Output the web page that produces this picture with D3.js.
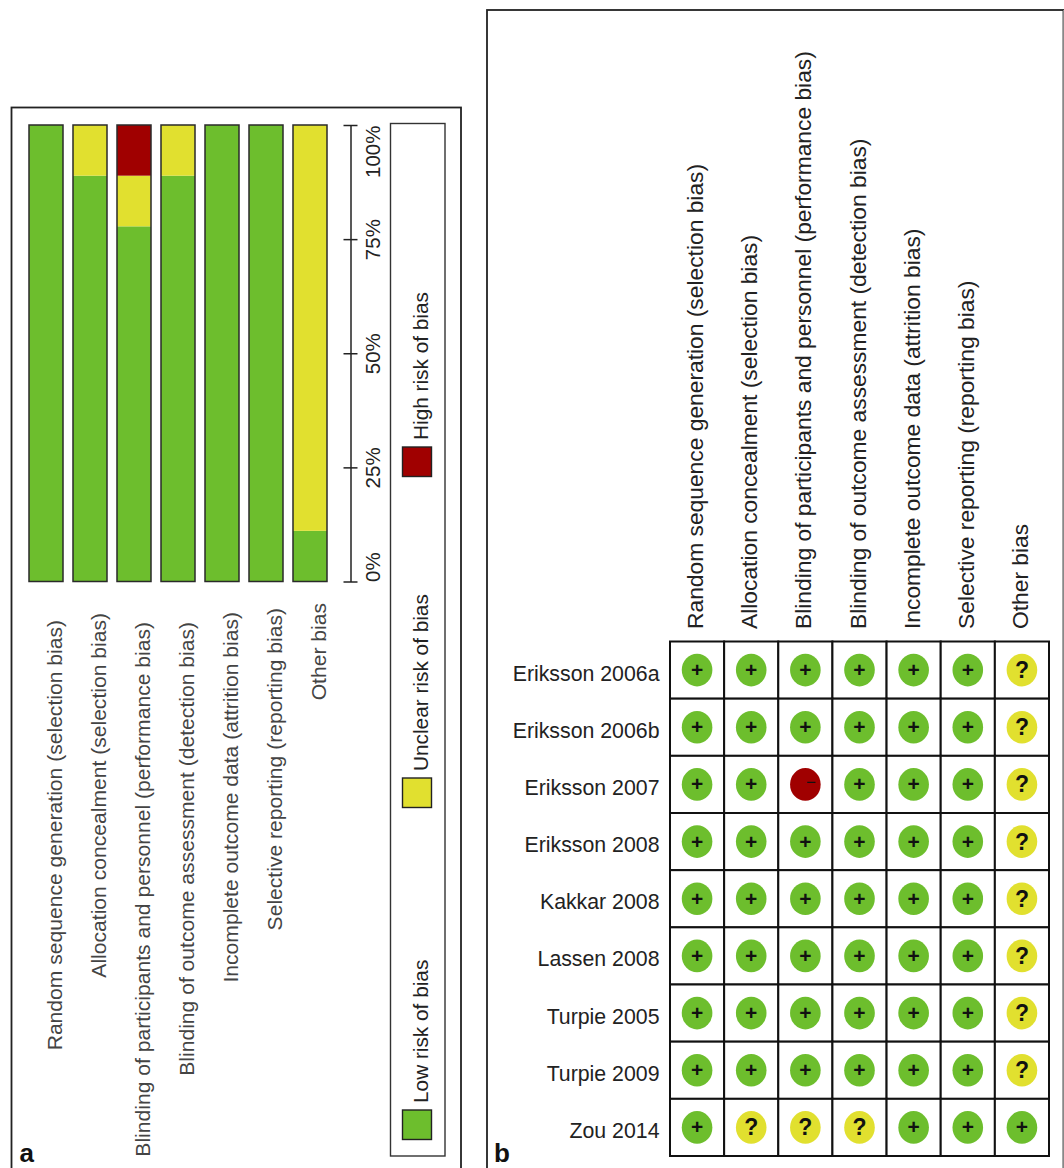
<!DOCTYPE html>
<html>
<head>
<meta charset="utf-8">
<script src="https://cdn.jsdelivr.net/npm/d3@7"></script>
<style>
  html, body { margin: 0; padding: 0; background: #fff; }
  svg { display: block; }
  text { font-family: "Liberation Sans", Arial, sans-serif; }
</style>
</head>
<body>
<div id="chart"></div>
<script>
const domains = [
  'Random sequence generation (selection bias)',
  'Allocation concealment (selection bias)',
  'Blinding of participants and personnel (performance bias)',
  'Blinding of outcome assessment (detection bias)',
  'Incomplete outcome data (attrition bias)',
  'Selective reporting (reporting bias)',
  'Other bias'
];
const lowRisk = [100, 88.9, 77.8, 88.9, 100, 100, 11.1];
const unclearRisk = [0, 11.1, 11.1, 11.1, 0, 0, 88.9];
const highRisk = [0, 0, 11.1, 0, 0, 0, 0];
const percentTicks = [0, 25, 50, 75, 100];
const legendLabels = ['Low risk of bias', 'Unclear risk of bias', 'High risk of bias'];

const studies = [
  'Eriksson 2006a', 'Eriksson 2006b', 'Eriksson 2007', 'Eriksson 2008', 'Kakkar 2008',
  'Lassen 2008', 'Turpie 2005', 'Turpie 2009', 'Zou 2014'
];
const judgements = [
  ['+', '+', '+', '+', '+', '+', '?'],
  ['+', '+', '+', '+', '+', '+', '?'],
  ['+', '+', '-', '+', '+', '+', '?'],
  ['+', '+', '+', '+', '+', '+', '?'],
  ['+', '+', '+', '+', '+', '+', '?'],
  ['+', '+', '+', '+', '+', '+', '?'],
  ['+', '+', '+', '+', '+', '+', '?'],
  ['+', '+', '+', '+', '+', '+', '?'],
  ['+', '?', '?', '?', '+', '+', '+']
];

const GREEN = '#6dbe2d';
const YELLOW = '#e1e02f';
const RED = '#a00000';
const judgementColour = { '+': GREEN, '?': YELLOW, '-': RED };

const svg = d3.select('#chart').append('svg')
  .attr('width', 1064)
  .attr('height', 1168);

// panel frames run off the bottom of the page, same as the source figure
svg.append('rect')
  .attr('x', 11.5).attr('y', 107.5).attr('width', 449.5).attr('height', 1100)
  .attr('fill', 'none').attr('stroke', '#222').attr('stroke-width', 1.8);
svg.append('rect')
  .attr('x', 487).attr('y', 10).attr('width', 576.5).attr('height', 1200)
  .attr('fill', 'none').attr('stroke', '#222').attr('stroke-width', 1.8);
svg.append('line')
  .attr('x1', 1063.5).attr('x2', 1063.5).attr('y1', 10).attr('y2', 1168)
  .attr('stroke', '#888').attr('stroke-width', 1);

// ---- panel a: summary bars
const x = d3.scaleBand().domain(domains).range([29, 327]).paddingInner(10 / 44).paddingOuter(0);
const y = d3.scaleLinear().domain([0, 100]).range([581.5, 125]);

const stackRows = domains.map((d, i) => ({ domain: d, low: lowRisk[i], unclear: unclearRisk[i], high: highRisk[i] }));
const stack = d3.stack().keys(['low', 'unclear', 'high'])(stackRows);
const stackColour = d3.scaleOrdinal().domain(['low', 'unclear', 'high']).range([GREEN, YELLOW, RED]);

const a = svg.append('g');
a.selectAll('g.layer')
  .data(stack)
  .enter()
  .append('g')
  .attr('class', 'layer')
  .attr('fill', d => stackColour(d.key))
  .selectAll('rect')
  .data(d => d)
  .enter()
  .append('rect')
  .attr('x', d => x(d.data.domain))
  .attr('width', x.bandwidth())
  .attr('y', d => y(d[1]))
  .attr('height', d => y(d[0]) - y(d[1]));

a.selectAll('rect.outline')
  .data(domains)
  .enter()
  .append('rect')
  .attr('class', 'outline')
  .attr('x', d => x(d))
  .attr('width', x.bandwidth())
  .attr('y', y(100))
  .attr('height', y(0) - y(100))
  .attr('fill', 'none')
  .attr('stroke', '#2a2a2a')
  .attr('stroke-width', 1.5);

const axis = a.append('g')
  .attr('transform', 'translate(350.5,0)')
  .call(d3.axisRight(y).tickValues(percentTicks).tickSize(7).tickSizeOuter(0).tickFormat(d => d + '%'));
axis.select('.domain').attr('stroke', '#222').attr('stroke-width', 1.5);
axis.selectAll('.tick line').attr('x1', -7).attr('stroke', '#222').attr('stroke-width', 1.5);
axis.selectAll('.tick text')
  .attr('x', 0).attr('y', 0).attr('dy', 0)
  .attr('transform', 'translate(29.5,0) rotate(-90)')
  .attr('font-size', 20.5)
  .attr('fill', '#222')
  .attr('font-family', '"Liberation Sans", Arial, sans-serif')
  .attr('text-anchor', d => d === 0 ? 'start' : d === 100 ? 'end' : 'middle');

// top end of each rotated label, they don't line up in the source
const labelTopA = [620, 613, 622, 622, 612, 608, 603];
a.selectAll('text.domain-label')
  .data(domains)
  .enter()
  .append('text')
  .attr('class', 'domain-label')
  .attr('transform', (d, i) => `translate(${x(d) + 33},${labelTopA[i]}) rotate(-90)`)
  .attr('text-anchor', 'end')
  .attr('font-size', 21.1)
  .attr('fill', '#444')
  .text(d => d);

// legend
svg.append('rect')
  .attr('x', 390.5).attr('y', 123.5).attr('width', 54.5).attr('height', 1032.5)
  .attr('fill', 'none').attr('stroke', '#333').attr('stroke-width', 1.4);
const legendY = [1110, 778, 447];
const legendColour = [GREEN, YELLOW, RED];
const legend = svg.selectAll('g.legend')
  .data(legendLabels)
  .enter()
  .append('g')
  .attr('class', 'legend')
  .attr('transform', (d, i) => `translate(402.5,${legendY[i]})`);
legend.append('rect')
  .attr('width', 29).attr('height', 29.5)
  .attr('fill', (d, i) => legendColour[i])
  .attr('stroke', '#222').attr('stroke-width', 1.4);
legend.append('text')
  .attr('transform', 'translate(25.5,-7) rotate(-90)')
  .attr('font-size', 20.8)
  .attr('fill', '#222')
  .text(d => d);

// ---- panel b: judgement grid
const col = d3.scaleBand().domain(domains).range([670, 1049]);
const row = d3.scaleBand().domain(studies).range([641.5, 1156]);

const b = svg.append('g');
judgements.forEach((cells, r) => {
  const g = b.append('g').attr('transform', `translate(0,${row(studies[r])})`);
  const cell = g.selectAll('g')
    .data(cells)
    .enter()
    .append('g')
    .attr('transform', (d, i) => `translate(${col(domains[i])},0)`);
  cell.append('rect')
    .attr('width', col.bandwidth())
    .attr('height', row.bandwidth())
    .attr('fill', '#fff')
    .attr('stroke', '#111')
    .attr('stroke-width', 2);
  cell.append('ellipse')
    .attr('cx', col.bandwidth() / 2)
    .attr('cy', row.bandwidth() / 2)
    .attr('rx', 15.3)
    .attr('ry', 16.3)
    .attr('fill', d => judgementColour[d]);
  cell.append('text')
    .attr('x', d => col.bandwidth() / 2 + (d === '-' ? 5.5 : 0))
    .attr('y', d => row.bandwidth() / 2 + (d === '?' ? 8 : d === '+' ? 7 : 3.5))
    .attr('text-anchor', 'middle')
    .attr('font-size', d => d === '?' ? 23 : d === '+' ? 21 : 17)
    .attr('font-weight', d => d === '-' ? 'normal' : 'bold')
    .attr('fill', '#111')
    .text(d => d === '-' ? '\u2212' : d);
});

b.selectAll('text.study')
  .data(studies)
  .enter()
  .append('text')
  .attr('class', 'study')
  .attr('x', 659.5)
  .attr('y', d => row(d) + row.bandwidth() / 2 + 10.5)
  .attr('text-anchor', 'end')
  .attr('font-size', 21.3)
  .attr('fill', '#222')
  .text(d => d);

b.selectAll('text.header')
  .data(domains)
  .enter()
  .append('text')
  .attr('class', 'header')
  .attr('transform', d => `translate(${col(d) + col.bandwidth() / 2 + 6},629) rotate(-90)`)
  .attr('font-size', 22.8)
  .attr('fill', '#222')
  .text(d => d);

// panel letters
svg.append('text').attr('x', 19.5).attr('y', 1162).attr('font-size', 26).attr('font-weight', 'bold').attr('fill', '#111').text('a');
svg.append('text').attr('x', 494).attr('y', 1162).attr('font-size', 26).attr('font-weight', 'bold').attr('fill', '#111').text('b');
</script>
</body>
</html>
